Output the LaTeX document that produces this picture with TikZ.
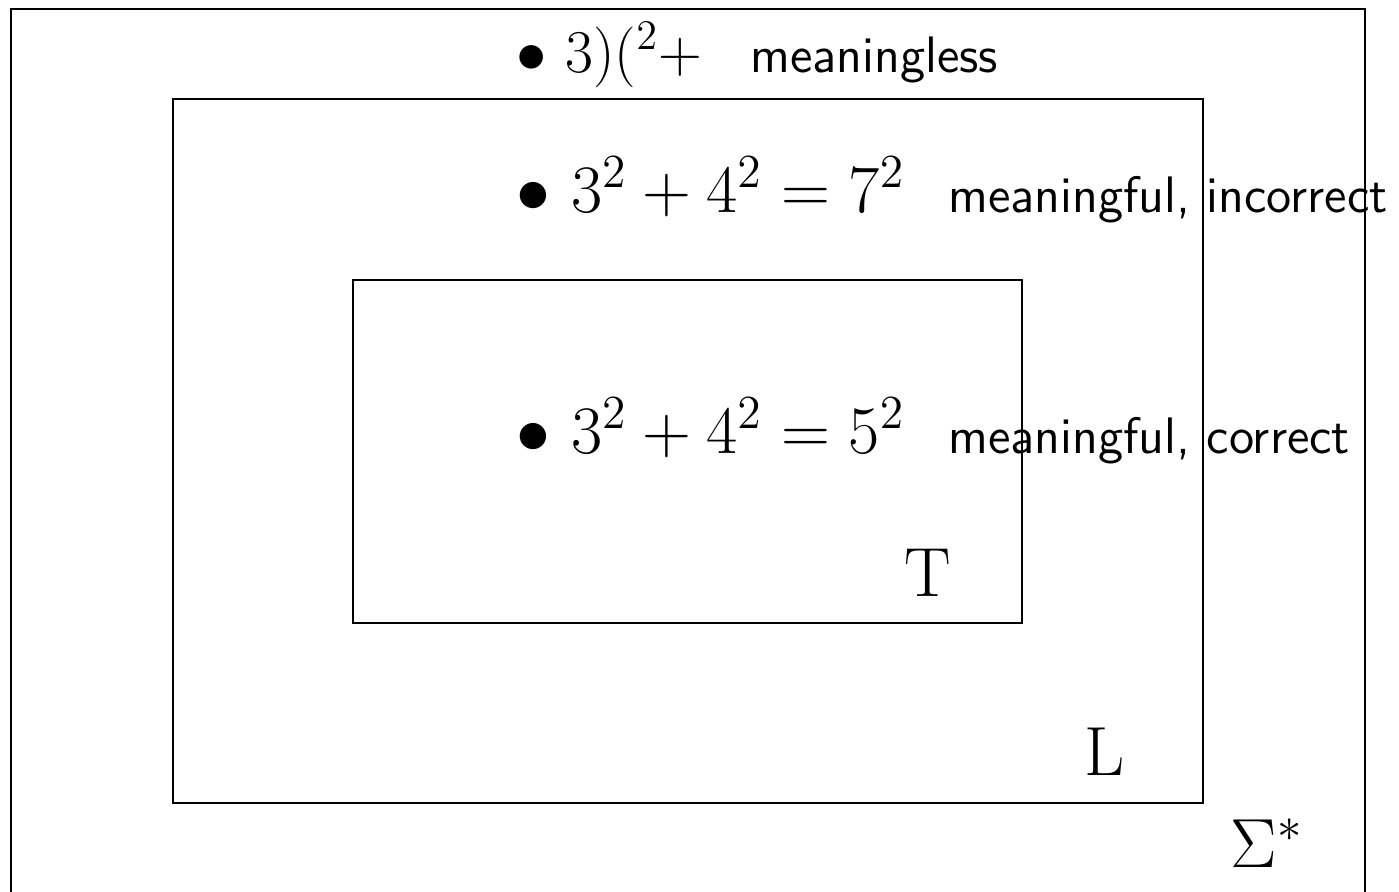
\RequirePackage{fix-cm}
\documentclass[tikz,border=0pt]{standalone}
\usepackage{amsmath}
\usepackage{amssymb}
\usepackage{tikz}

\tikzset{
  region/.style={semithick},
  formula/.style={font=\fontsize{17.28}{22}\selectfont, anchor=base west, inner sep=0pt},
  bigformula/.style={font=\fontsize{19.3}{24}\selectfont, anchor=base west, inner sep=0pt},
  remark/.style={font=\sffamily\fontsize{14.6}{18}\selectfont, anchor=base west, inner sep=0pt},
  setname/.style={font=\fontsize{19.8}{24}\selectfont, anchor=base, inner sep=0pt}
}

\begin{document}
\begin{tikzpicture}
  \clip (0,0) rectangle (13.99,-8.91);

  \draw[region] (0.11,-0.09) rectangle (13.65,-9.30);
  \draw[region] (1.73,-0.99) rectangle (12.03,-8.03);
  \draw[region] (3.53,-2.80) rectangle (10.22,-6.23);

  \node[formula] (bad) at (5.16,-0.72) {$\bullet$ $3)(^2+$};
  \node[remark] (badtxt) at (7.50,-0.72) {meaningless};

  \node[bigformula] (wrong) at (5.16,-2.12) {$\bullet$ $3^2+4^2=7^2$};
  \node[remark] (wrongtxt) at (9.48,-2.12) {meaningful, incorrect};

  \node[bigformula] (right) at (5.16,-4.53) {$\bullet$ $3^2+4^2=5^2$};
  \node[remark] (righttxt) at (9.48,-4.53) {meaningful, correct};

  \node[setname] (T) at (9.28,-5.96) {T};
  \node[setname] (L) at (11.05,-7.75) {L};
  \node[setname, anchor=base west] (Sigma) at (12.30,-8.67) {$\Sigma^*$};
\end{tikzpicture}
\end{document}
